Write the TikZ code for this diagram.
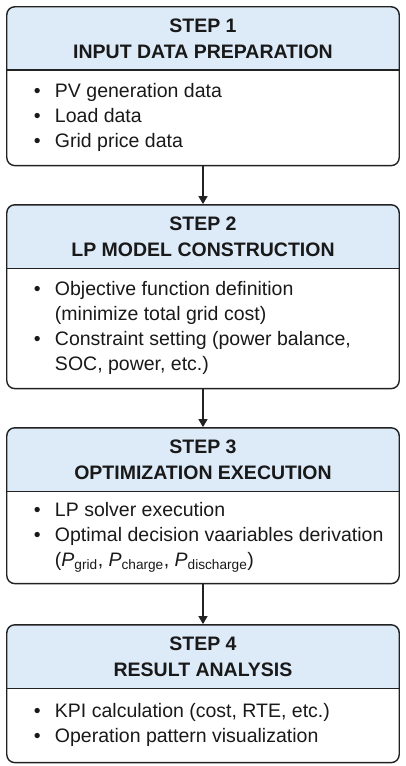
\documentclass[tikz,border=0pt]{standalone}
\usepackage{fontspec}
\setmainfont{Liberation Sans}
\usetikzlibrary{arrows.meta, positioning, fit, backgrounds}
\definecolor{headblue}{RGB}{221,234,248}
\definecolor{framegray}{RGB}{34,34,34}
\definecolor{textblack}{RGB}{25,25,25}
\newcommand{\bul}{\makebox[21bp][l]{\textbullet}}
\newcommand{\cont}{\hspace*{21bp}}

\begin{document}
\begin{tikzpicture}[x=1bp, y=-1bp,
  head/.style={minimum width=392bp, minimum height=63bp, inner sep=0pt, align=center,
    text=textblack, font=\bfseries\fontsize{19.5bp}{26bp}\selectfont},
  body/.style={anchor=north west, inner sep=0pt, align=left,
    text=textblack, font=\fontsize{19.5bp}{25bp}\selectfont},
  frame/.style={draw=framegray, line width=1.4bp, rounded corners=8bp, inner sep=0pt},
  arr/.style={-{Triangle[length=8bp, width=9bp]}, line width=1.3bp, framegray}
]
  \useasboundingbox (0,0) rectangle (405,766);

  % step boxes
  \node[head] (h1) at (203,38.5) {STEP 1\\INPUT DATA PREPARATION};
  \node[body, minimum height=95bp] (b1) at ([xshift=27bp]h1.south west)
    {\bul PV generation data\\\bul Load data\\\bul Grid price data};

  \node[head] (h2) at (203,236.5) {STEP 2\\LP MODEL CONSTRUCTION};
  \node[body, minimum height=120bp] (b2) at ([xshift=27bp]h2.south west)
    {\bul Objective function definition\\\cont(minimize total grid cost)\\
     \bul Constraint setting (power balance,\\\cont SOC, power, etc.)};

  \node[head] (h3) at (203,459.5) {STEP 3\\OPTIMIZATION EXECUTION};
  \node[body, minimum height=92bp] (b3) at ([xshift=27bp]h3.south west)
    {\bul LP solver execution\\\bul Optimal decision vaariables derivation\\
     \cont(\textit{P}\textsubscript{grid}, \textit{P}\textsubscript{charge},
     \textit{P}\textsubscript{discharge})};

  \node[head] (h4) at (203,656.5) {STEP 4\\RESULT ANALYSIS};
  \node[body, minimum height=74bp] (b4) at ([xshift=27bp]h4.south west)
    {\bul KPI calculation (cost, RTE, etc.)\\\bul Operation pattern visualization};

  % frames, header fills, dividers
  \foreach \i in {1,...,4} {
    \node[frame, fit=(h\i)(b\i)] (s\i) {};
    \draw[frame] (h\i.south west) -- (h\i.south east);
  }
  \begin{scope}[on background layer]
    \foreach \i in {1,...,4}
      \fill[headblue] (h\i.south west) [rounded corners=8bp] -- (s\i.north west)
        -- (s\i.north east) [sharp corners] -- (h\i.south east) -- cycle;
  \end{scope}

  \foreach \i/\j in {1/2, 2/3, 3/4}
    \draw[arr] (s\i) -- (s\j);
\end{tikzpicture}
\end{document}
